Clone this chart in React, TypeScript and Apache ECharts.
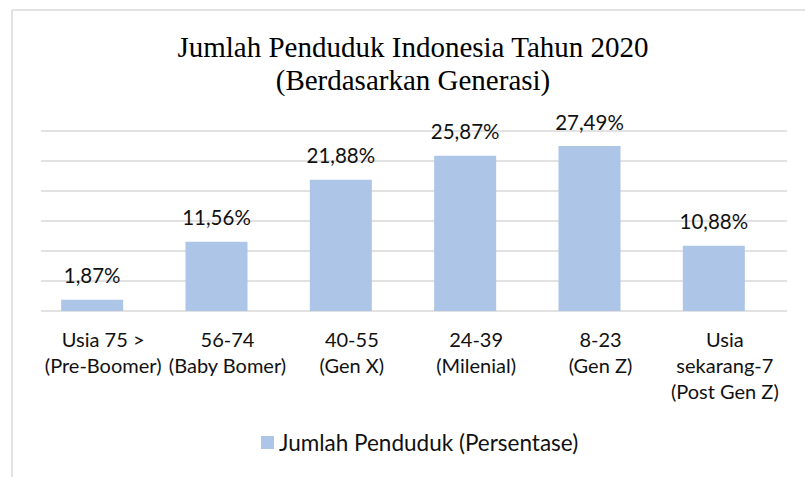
import React, { useEffect, useRef } from "react";
import * as echarts from "echarts";

const categories = [
  "Usia 75 >\n(Pre-Boomer)",
  "56-74\n(Baby Bomer)",
  "40-55\n(Gen X)",
  "24-39\n(Milenial)",
  "8-23\n(Gen Z)",
  "Usia\nsekarang-7\n(Post Gen Z)",
];
const values = [1.87, 11.56, 21.88, 25.87, 27.49, 10.88];
const seriesName = "Jumlah Penduduk (Persentase)";
const titleText = "Jumlah Penduduk Indonesia Tahun 2020\n(Berdasarkan Generasi)";
const yMin = 0;
const yMax = 30;
const yInterval = 5;

const fmt = (v: number) => v.toFixed(2).replace(".", ",") + "%";

export default function App() {
  const ref = useRef<HTMLDivElement>(null);
  useEffect(() => {
    if (!ref.current) return;
    const chart = echarts.init(ref.current, null, { renderer: "svg" });
    const sans = "Lato";
    chart.setOption({
      animation: false,
      backgroundColor: "#ffffff",
      graphic: [
        {
          type: "line",
          shape: { x1: 12, y1: 10, x2: 805, y2: 10 },
          style: { stroke: "#d9d9d9", lineWidth: 1.5 },
        },
        {
          type: "line",
          shape: { x1: 12, y1: 10, x2: 12, y2: 477 },
          style: { stroke: "#d9d9d9", lineWidth: 1.5 },
        },
        {
          type: "text",
          x: 413,
          y: 30.5,
          style: {
            text: titleText,
            textAlign: "center",
            textVerticalAlign: "top",
            fontFamily: "Liberation Serif",
            fontSize: 29,
            lineHeight: 33,
            fill: "#000000",
          },
        },
      ],
      grid: { left: 41, right: 18, top: 131, bottom: 166, containLabel: false },
      legend: {
        data: [seriesName],
        left: 261,
        top: 431,
        padding: 0,
        icon: "rect",
        itemWidth: 13,
        itemHeight: 13,
        textStyle: { fontFamily: sans, fontSize: 22.5, color: "#111111", lineHeight: 22 },
      },
      xAxis: {
        type: "category",
        data: categories,
        axisLine: { show: false },
        axisTick: { show: false },
        axisLabel: {
          interval: 0,
          margin: 15,
          fontFamily: sans,
          fontSize: 20,
          lineHeight: 26,
          color: "#111111",
        },
      },
      yAxis: {
        type: "value",
        min: yMin,
        max: yMax,
        interval: yInterval,
        axisLabel: { show: false },
        axisLine: { show: false },
        axisTick: { show: false },
        splitLine: { lineStyle: { color: "#d9d9d9", width: 1.5 } },
      },
      series: [
        {
          name: seriesName,
          type: "bar",
          data: values,
          barWidth: 62,
          barGap: "-64.5%",
          itemStyle: { color: "#adc5e7" },
          label: {
            show: true,
            position: "top",
            distance: 14,
            formatter: (p: any) => fmt(p.value),
            fontFamily: sans,
            fontSize: 20.5,
            color: "#111111",
          },
        },
        {
          name: "_spacer",
          type: "bar",
          data: values.map(() => null),
          barWidth: 62,
          itemStyle: { color: "transparent" },
        },
      ],
    });
    return () => chart.dispose();
  }, []);
  return (
    <div
      ref={ref}
      style={{ position: "fixed", left: 0, top: 0, width: 805, height: 477, background: "#fff" }}
    />
  );
}
